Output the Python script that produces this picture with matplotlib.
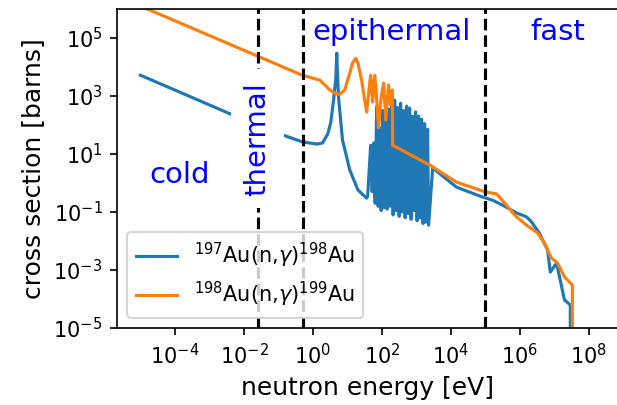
import numpy as np
import matplotlib
matplotlib.use("Agg")
import matplotlib.pyplot as plt

# values (energy in eV, cross section in barns)
au197_E = [1e-5, 4.8e-3, 0.16, 0.5, 1.3, 1.9, 2.7, 3.3, 4.0, 4.6, 4.9, 5.2, 5.6, 7.2, 11.7, 20, 36, 38.5,
           47.1, 52.0, 57.5, 63.5, 70.3, 77.6, 85.7, 94.8, 104.7, 115.9, 127.9, 141.6, 156.3, 172.6,
           191.0, 210.9, 233.3, 257.6, 284.4, 314.8, 347.5, 384.6, 424.6, 469.9, 518.8, 572.8, 633.9,
           699.8, 774.5, 855.1, 944.1, 1045, 1153, 1276, 1409, 1556, 1722, 1901, 2104, 2249,
           2950, 14450, 8.13e4, 1.58e5, 3.09e5, 7.94e5, 1.55e6, 2.14e6, 3.63e6, 6.31e6, 7.59e6,
           1.15e7, 1.95e7, 2.88e7, 2.88e7]
au197_sig = [5.2e3, 220, 42, 26, 22, 24, 50, 126, 800, 4000, 3.0e4, 4000, 720, 30, 2.8, 0.58, 0.30, 0.35,
             20, 0.50, 24, 0.20, 417, 0.158, 79, 0.112, 316, 0.141, 158, 0.126, 355, 0.158,
             562, 0.079, 724, 0.112, 398, 0.071, 562, 0.10, 316, 0.063, 447, 0.089, 380,
             0.056, 200, 0.112, 282, 0.050, 200, 0.063, 158, 0.040, 112, 0.045, 71, 0.035,
             3.3, 0.72, 0.33, 0.257, 0.174, 0.093, 0.068, 0.046, 0.019, 0.0049, 8.5e-4,
             1.74e-3, 9.3e-5, 6.2e-5, 1e-8]

au198_E = [1e-5, 0.48, 1.6, 3.1, 4.9, 6.0, 8.3, 11.7, 14.1, 17.4, 20, 25.7, 31.6, 36,
           46.8, 53.7, 61.7, 68, 79.4, 95, 112, 129, 155, 178, 200, 204,
           2400, 14450, 1e5, 2.09e5, 4.07e5, 6.92e5, 1.55e6, 3.24e6, 5.13e6, 8.13e6,
           1.23e7, 1.95e7, 3.31e7, 3.31e7]
au198_sig = [1.26e6, 5.25e3, 3.5e3, 1.6e3, 1.17e3, 1.15e3, 1.6e3, 6.2e3, 1.4e4, 2.0e4, 1.4e4, 3.5e3, 720, 280,
             5.2e3, 620, 5.2e3, 1.5e3, 80, 900, 2.8e3, 148, 2.4e3, 490, 1.6e3, 20,
             4.2, 1.07, 0.49, 0.42, 0.174, 0.079, 0.035, 0.019, 8.5e-3, 2.6e-3,
             1.74e-3, 5.8e-4, 3.0e-4, 1e-8]

boundaries = [0.025, 0.5, 1e5]

fig = plt.figure(figsize=(617 / 150, 405 / 150), dpi=150)
ax = fig.add_axes([0.1896, 0.1901, 0.8136, 0.7877])

ax.plot(au197_E, au197_sig, label=r'$^{197}$Au(n,$\gamma$)$^{198}$Au')
ax.plot(au198_E, au198_sig, label=r'$^{198}$Au(n,$\gamma$)$^{199}$Au')
for b in boundaries:
    ax.axvline(b, color='k', ls='--', lw=1.5)

ax.set_xscale('log')
ax.set_yscale('log')
ax.set_xlim(10**-5.68, 10**8.87)
ax.set_ylim(1e-5, 1e6)
ax.set_xticks([1e-4, 1e-2, 1e0, 1e2, 1e4, 1e6, 1e8])
ax.set_yticks([1e-5, 1e-3, 1e-1, 1e1, 1e3, 1e5])
ax.minorticks_off()
ax.tick_params(labelsize=10)

ax.text(1.4e-4, 1.0, 'cold', color='blue', fontsize=14, ha='center', va='baseline')
ax.text(0.025, 33, 'thermal', color='blue', fontsize=14, rotation=90, ha='center', va='center',
        bbox=dict(facecolor='white', edgecolor='none', pad=6))
ax.text(190, 8.5e4, 'epithermal', color='blue', fontsize=14, ha='center', va='baseline')
ax.text(1.26e7, 8.5e4, 'fast', color='blue', fontsize=14, ha='center', va='baseline')

ax.set_xlabel('neutron energy [eV]', fontsize=12)
ax.set_ylabel('cross section [barns]', fontsize=12)
ax.legend(loc='lower left', fontsize=10)

fig.savefig('out.png', dpi=150)
